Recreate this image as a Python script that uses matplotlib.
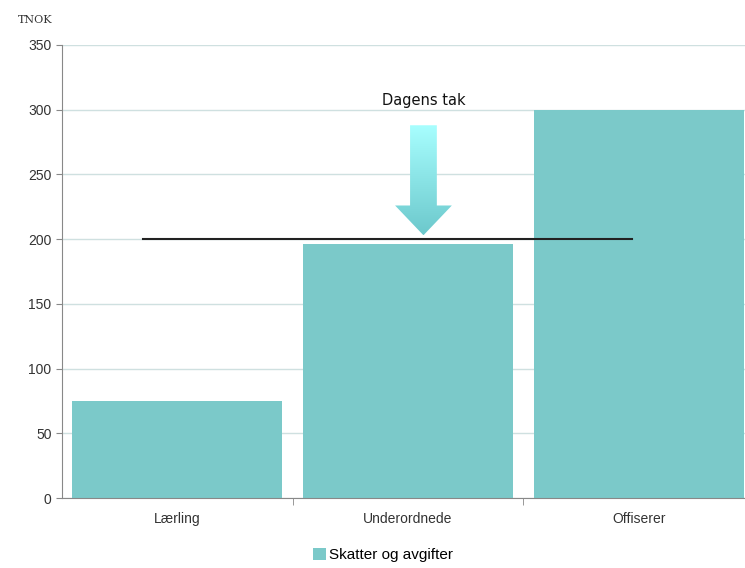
import matplotlib
matplotlib.use("Agg")
import matplotlib.pyplot as plt
import numpy as np
from matplotlib.patches import Polygon

categories = ["Lærling", "Underordnede", "Offiserer"]
values = [75, 196, 300]
series_name = "Skatter og avgifter"
cap_value = 200
yticks = [0, 50, 100, 150, 200, 250, 300, 350]

bar_color = "#7bc9c9"
fig = plt.figure(figsize=(7.45, 5.68), dpi=100)
ax = fig.add_axes([62/745, 1-498/568, (754-62)/745, 453/568])

x = np.arange(len(categories))
ax.bar(x, values, width=0.91, color=bar_color, label=series_name, zorder=2)
ax.set_xlim(-0.5, 2.5)
ax.set_ylim(0, 350)
ax.set_yticks(yticks)
ax.yaxis.grid(True, color="#cfe0e0", linewidth=1, zorder=0)
ax.set_xticks(x)
ax.set_xticklabels(categories, fontsize=10, color="#333333", family="Liberation Sans")
ax.set_xticks([0.5, 1.5], minor=True)
ax.tick_params(axis="x", which="major", length=0, pad=10)
ax.tick_params(axis="x", which="minor", length=5, color="#888888")
ax.tick_params(axis="y", length=4, color="#888888", labelsize=10, labelcolor="#333333")
for lab in ax.get_yticklabels():
    lab.set_family("Liberation Sans")
for s in ["top", "right"]:
    ax.spines[s].set_visible(False)
for s in ["left", "bottom"]:
    ax.spines[s].set_color("#888888")

# cap line
ax.plot([-0.15, 1.97], [cap_value, cap_value], color="#222222", linewidth=1.5, zorder=4)

# arrow with gradient
cx = 1.067
hw_s, hw_h = 0.058, 0.123
y_top, y_neck, y_tip = 288, 226, 203
pts = [(cx-hw_s, y_top), (cx+hw_s, y_top), (cx+hw_s, y_neck), (cx+hw_h, y_neck),
       (cx, y_tip), (cx-hw_h, y_neck), (cx-hw_s, y_neck)]
poly = Polygon(pts, closed=True, facecolor="none", edgecolor="none", zorder=5)
ax.add_patch(poly)
grad = np.linspace(0, 1, 256).reshape(-1, 1)
from matplotlib.colors import LinearSegmentedColormap
cmap = LinearSegmentedColormap.from_list("g", ["#a8ffff", "#6cc8cc"])
im = ax.imshow(grad, extent=[cx-hw_h, cx+hw_h, y_tip, y_top], origin="upper",
               cmap=cmap, aspect="auto", zorder=5)
im.set_clip_path(poly)
ax.set_xlim(-0.5, 2.5)
ax.set_ylim(0, 350)
ax.text(cx, 307, "Dagens tak", ha="center", va="center", fontsize=10.5,
        color="#111111", family="DejaVu Sans", zorder=6)

fig.text(35/745, 1-20/568, "TNOK", fontsize=8, family="DejaVu Serif", color="#333333",
         ha="center", va="center")

leg = fig.legend(loc="center", bbox_to_anchor=(383/745, 1-555/568), frameon=False,
                 fontsize=10.5, handlelength=0.8, handleheight=0.8, handletextpad=0.2,
                 prop={"family": "Liberation Sans", "size": 11})
fig.savefig("out.png", dpi=100)
